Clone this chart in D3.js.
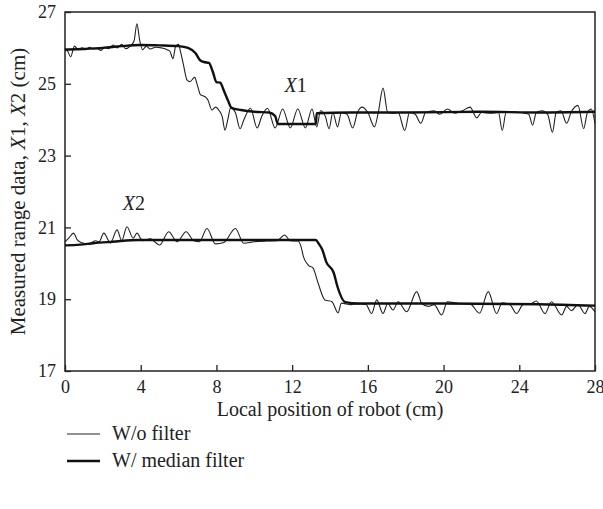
<!DOCTYPE html>
<meta charset="utf-8">
<style>
body { margin: 0; background: #fff; }
svg text { font-family: "Liberation Serif", "Times New Roman", Times, "DejaVu Serif", "Noto Serif", serif; fill: #222; }
.axis path, .axis line { stroke: #222; stroke-width: 1.3; }
.frame { fill: none; stroke: #222; stroke-width: 1.5; }
.raw { fill: none; stroke: #222; stroke-width: 1.1; }
.median { fill: none; stroke: #111; stroke-width: 2.4; }
</style>
<body>
<script src="https://d3js.org/d3.v7.min.js"></script>
<script>

// tick labels
var xTicks = [0, 4, 8, 12, 16, 20, 24, 28];
var yTicks = [17, 19, 21, 23, 25, 27];

// X1 without filter, [position cm, range cm]
var x1Raw = [[0,26.0],[0.15,25.9],[0.3,25.75],[0.5,26.05],[0.7,25.95],[0.9,26.0],[1.1,25.95],[1.3,26.02],
  [1.5,25.97],[1.7,25.98],[1.9,25.93],[2.1,26.02],[2.3,25.98],[2.55,26.08],[2.75,26.0],[3.0,26.1],
  [3.2,25.98],[3.45,26.05],[3.65,26.2],[3.8,26.67],[3.95,26.2],[4.1,25.95],[4.3,26.05],[4.5,25.97],
  [4.8,26.02],[5.1,26.0],[5.4,25.95],[5.55,25.9],[5.7,25.7],[5.85,26.05],[6.0,26.1],[6.1,25.9],
  [6.25,25.55],[6.45,25.1],[6.6,25.06],[6.85,25.18],[7.0,24.95],[7.15,24.7],[7.4,24.64],[7.55,24.55],
  [7.76,24.27],[7.95,24.35],[8.15,24.25],[8.3,24.1],[8.45,23.71],[8.6,24.0],[8.75,24.33],[9.0,24.2],
  [9.25,23.75],[9.45,24.0],[9.8,24.32],[10.15,23.77],[10.4,24.1],[10.7,24.32],[11.1,23.77],[11.5,24.3],
  [11.9,23.77],[12.3,24.3],[12.7,23.77],[13.05,24.3],[13.3,23.8],[13.5,24.25],[13.75,24.1],[13.95,23.75],
  [14.15,24.2],[14.4,23.8],[14.6,24.2],[14.9,24.15],[15.2,23.77],[15.45,24.2],[15.7,24.35],[16.0,24.2],
  [16.35,23.8],[16.55,24.2],[16.8,24.88],[17.05,24.2],[17.3,24.18],[17.6,24.2],[17.95,23.7],[18.2,24.2],
  [18.5,24.15],[18.8,23.9],[19.05,24.2],[19.5,24.25],[19.8,24.15],[20.2,24.3],[20.6,24.18],[21.0,24.25],
  [21.4,24.35],[21.75,24.05],[22.0,24.2],[22.5,24.18],[22.9,24.2],[23.1,23.7],[23.3,24.2],[23.7,24.22],
  [24.1,24.2],[24.5,24.15],[24.7,23.85],[24.9,24.2],[25.2,24.25],[25.5,24.15],[25.75,23.65],[25.95,24.2],
  [26.2,24.25],[26.5,23.9],[26.75,24.22],[27.1,24.4],[27.4,23.75],[27.6,24.2],[27.8,24.3],[28,23.9]];

// X1 with median filter
var x1Median = [[0,25.95],[1,25.97],[2,26.0],[3,26.05],[4,26.08],[5,26.07],[6,26.05],[6.5,26.0],
  [6.9,25.85],[7.15,25.65],[7.4,25.6],[7.6,25.58],[7.8,25.35],[8.0,25.05],[8.2,25.03],[8.4,24.8],
  [8.6,24.55],[8.8,24.33],[9.3,24.27],[10,24.22],[10.8,24.2],[11.1,24.1],[11.25,23.88],[13.25,23.88],
  [13.3,24.18],[15,24.2],[18,24.2],[22,24.22],[25,24.2],[28,24.22]];

// X2 without filter
var x2Raw = [[0,20.6],[0.2,20.7],[0.45,20.84],[0.65,20.65],[0.9,20.57],[1.25,20.53],[1.6,20.63],[1.8,20.6],
  [2.05,20.84],[2.4,20.57],[2.75,20.93],[3.0,20.63],[3.27,21.02],[3.6,20.7],[3.8,20.84],[4.1,20.63],
  [4.5,20.68],[5.0,20.51],[5.48,20.88],[5.92,20.6],[6.4,20.88],[6.8,20.63],[7.1,20.6],[7.5,20.97],
  [7.95,20.54],[8.4,20.58],[9.0,20.97],[9.44,20.56],[10,20.6],[10.6,20.62],[11.2,20.63],[11.6,20.79],
  [11.9,20.63],[12.3,20.62],[12.45,20.5],[12.6,20.18],[12.85,19.95],[13.1,19.87],[13.37,19.45],[13.73,18.98],
  [14.1,18.93],[14.43,18.62],[14.6,18.89],[15.1,18.85],[15.6,18.87],[15.9,18.85],[16.2,18.6],[16.47,18.98],
  [16.8,18.6],[17.05,18.88],[17.33,18.7],[17.6,18.93],[18.05,18.65],[18.58,19.21],[18.85,18.88],[19.2,18.8],
  [19.5,18.85],[19.9,18.56],[20.2,18.93],[20.8,18.88],[21.4,18.87],[21.9,18.61],[22.36,19.21],[22.8,18.6],
  [23.1,18.9],[23.5,18.85],[23.86,18.6],[24.2,18.85],[24.6,18.87],[24.9,18.95],[25.36,18.6],[25.7,18.93],
  [26.24,18.56],[26.5,18.8],[26.75,18.68],[27.1,18.85],[27.47,18.6],[27.7,18.8],[28,18.65]];

// X2 with median filter
var x2Median = [[0,20.5],[0.8,20.52],[1.5,20.56],[2.5,20.6],[3.9,20.65],[8,20.65],[13.25,20.65],
  [13.4,20.55],[13.6,20.37],[13.8,20.04],[14.2,19.73],[14.4,19.34],[14.8,18.92],[15.5,18.88],
  [20,18.88],[25,18.86],[28,18.82]];

var margin = {top: 12, right: 8, bottom: 138, left: 65},
    width = 603 - margin.left - margin.right,
    height = 509 - margin.top - margin.bottom;

var svg = d3.select("body").append("svg")
    .attr("width", 603)
    .attr("height", 509);

var g = svg.append("g")
    .attr("transform", "translate(" + margin.left + "," + margin.top + ")");

var x = d3.scaleLinear().domain([0, 28]).range([0, width]);
var y = d3.scaleLinear().domain([17, 27]).range([height, 0]);

var xAxis = d3.axisBottom(x).tickValues(xTicks).tickSizeInner(-6).tickSizeOuter(0).tickPadding(9);
var yAxis = d3.axisLeft(y).tickValues(yTicks).tickSizeInner(-6).tickSizeOuter(0).tickPadding(9);

g.append("g")
    .attr("class", "x axis")
    .attr("transform", "translate(0," + height + ")")
    .call(xAxis)
    .attr("font-family", null)
    .selectAll("text")
      .style("font-size", "18px");

g.append("g")
    .attr("class", "y axis")
    .call(yAxis)
    .attr("font-family", null)
    .selectAll("text")
      .style("font-size", "18px");

g.selectAll(".axis .domain").remove();

g.append("rect")
    .attr("class", "frame")
    .attr("width", width)
    .attr("height", height);

var line = d3.line()
    .x(function(d) { return x(d[0]); })
    .y(function(d) { return y(d[1]); })
    .curve(d3.curveMonotoneX);

g.append("path").datum(x1Raw).attr("class", "raw").attr("d", line);
g.append("path").datum(x2Raw).attr("class", "raw").attr("d", line);
g.append("path").datum(x1Median).attr("class", "median").attr("d", line);
g.append("path").datum(x2Median).attr("class", "median").attr("d", line);

// series labels
var lab1 = g.append("text").attr("x", x(11.6)).attr("y", y(24.77)).style("font-size", "20px");
lab1.append("tspan").style("font-style", "italic").text("X");
lab1.append("tspan").text("1");
var lab2 = g.append("text").attr("x", x(3.05)).attr("y", y(21.48)).style("font-size", "20px");
lab2.append("tspan").style("font-style", "italic").text("X");
lab2.append("tspan").text("2");

// axis titles
svg.append("text")
    .attr("x", margin.left + width / 2)
    .attr("y", 416)
    .attr("text-anchor", "middle")
    .style("font-size", "20px")
    .text("Local position of robot (cm)");

var yt = svg.append("text")
    .attr("transform", "translate(25," + (margin.top + height / 2) + ") rotate(-90)")
    .attr("text-anchor", "middle")
    .style("font-size", "21px");
yt.append("tspan").text("Measured range data, ");
yt.append("tspan").style("font-style", "italic").text("X");
yt.append("tspan").text("1, ");
yt.append("tspan").style("font-style", "italic").text("X");
yt.append("tspan").text("2 (cm)");

// legend
var legend = svg.append("g").attr("transform", "translate(67,434)");
var items = [{name: "W/o filter", cls: "raw"}, {name: "W/ median filter", cls: "median"}];
items.forEach(function(d, i) {
  legend.append("line")
      .attr("class", d.cls)
      .attr("x1", 0).attr("x2", 33)
      .attr("y1", i * 27).attr("y2", i * 27);
  legend.append("text")
      .attr("x", 45).attr("y", i * 27 + 6)
      .style("font-size", "20px")
      .text(d.name);
});

</script>
</body>
